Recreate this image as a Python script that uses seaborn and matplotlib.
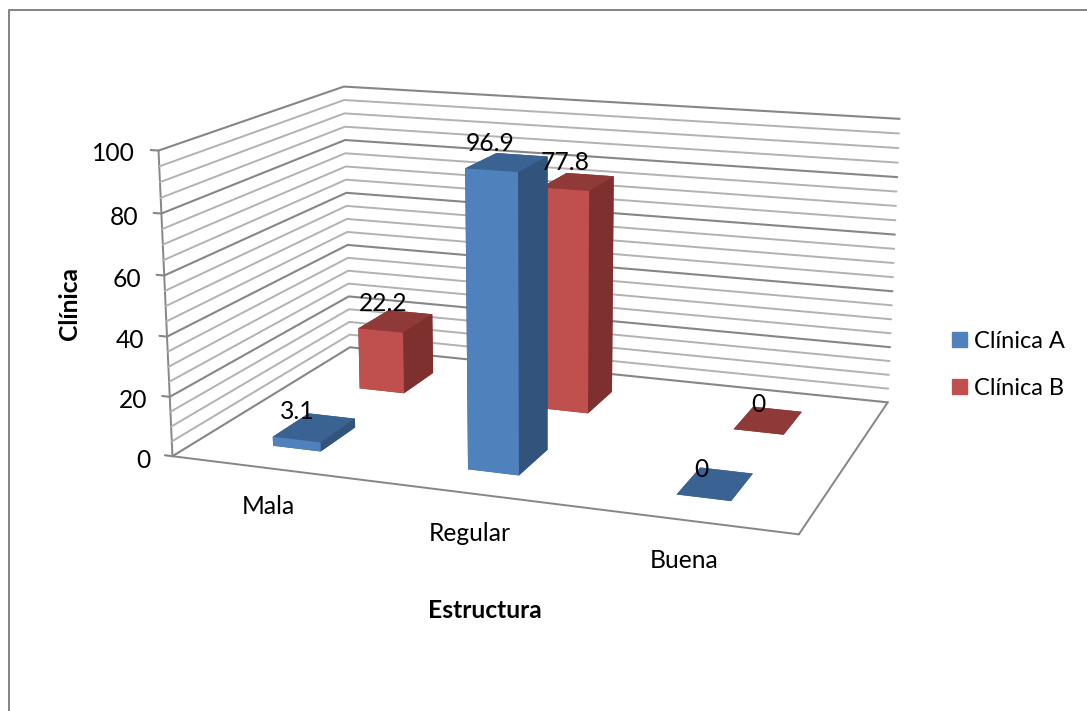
import numpy as np
import pandas as pd
import matplotlib
matplotlib.use("Agg")
import matplotlib.pyplot as plt
import seaborn as sns
from matplotlib.lines import Line2D
from matplotlib.patches import Patch
from matplotlib.transforms import Affine2D
from mpl_toolkits.mplot3d import proj3d

# Chart values
categorias = ["Mala", "Regular", "Buena"]
clinica_a = [3.1, 96.9, 0]
clinica_b = [22.2, 77.8, 0]
series_names = ["Clínica A", "Clínica B"]
z_major = [0, 20, 40, 60, 80, 100]
z_minor = [5, 10, 15, 25, 30, 35, 45, 50, 55, 65, 70, 75, 85, 90, 95]

sns.set_theme(style="white")
plt.rcParams['font.family'] = ['Lato', 'DejaVu Sans']

FW, FH = 1087, 711
FONT = 17.7
GRAY = '#868686'
LIGHT = '#B2B2B2'
colors_a = {'front': '#4F81BD', 'top': '#3A6292', 'side': '#32547C'}
colors_b = {'front': '#C0504D', 'top': '#8F3A38', 'side': '#7D302E'}

# Camera and box proportions of the 3D scene
ELEV, AZIM, FOCAL, BOX_X, BOX_Y = 14.260, -70.205, 0.4996, 2.0584, 1.3542
# Bar layout within each category/series cell
MARGIN_X, MARGIN_Y, DEPTH = 0.3747, 0.3018, 0.3921

fig = plt.figure(figsize=(FW / 100, FH / 100), dpi=100)
ax = fig.add_subplot(projection='3d', computed_zorder=False)
ax.set_position([142.00 / FW, 25.05 / FH, 783.25 / FW, 783.25 / FH])
ax.set_xlim(0, 3)
ax.set_ylim(0, 2)
ax.set_zlim(0, 100)
ax.view_init(elev=ELEV, azim=AZIM, roll=0)
ax.set_proj_type('persp', focal_length=FOCAL)
ax.set_box_aspect((BOX_X, BOX_Y, 1.0))

for axis in (ax.xaxis, ax.yaxis, ax.zaxis):
    axis.set_pane_color((1, 1, 1, 0))
    axis.pane.set_edgecolor((1, 1, 1, 0))
    axis.line.set_color(GRAY)
    axis.line.set_linewidth(1.4)
ax.grid(False)
ax.set_yticks([])
ax.set_xticks([0.5, 1.5, 2.5], categorias)
ax.set_zticks(z_major)
ax.zaxis.set_ticks_position('lower')
ax.tick_params(axis='x', labelsize=FONT, colors='black', color=(1, 1, 1, 0))
ax.tick_params(axis='z', labelsize=FONT, colors='black', color=(1, 1, 1, 0))


def shift_tick_labels(axis, offsets, ha='center'):
    """Keep an offset on each tick label; Axis3D resets label transforms when it fetches ticks."""
    fetch = axis.get_major_ticks

    def fetch_shifted(numticks=None):
        ticks = fetch(numticks)
        for tick, (dx, dy) in zip(ticks, offsets):
            tick.label1.set_transform(ax.transData + Affine2D().translate(dx, dy))
            tick.label1.set_horizontalalignment(ha)
        return ticks

    axis.get_major_ticks = fetch_shifted


shift_tick_labels(ax.xaxis, [(8, -10), (7, -11), (4, -10)])
shift_tick_labels(ax.zaxis, [(8, 9.5)] * len(z_major), ha='right')

# Walls: left wall then back wall, one polyline per gridline
for z in z_minor:
    ax.plot([0, 0, 3], [0, 2, 2], [z, z, z], color=LIGHT, lw=1.4, zorder=1)
for z in z_major:
    ax.plot([0, 0, 3], [0, 2, 2], [z, z, z], color=GRAY, lw=1.5, zorder=1.5)
    ax.plot([-0.04, 0], [0, 0], [z, z], color=GRAY, lw=1.5, zorder=1.5)


def face_colors(c):
    return [c['top'], c['top'], c['front'], c['side'], c['side'], c['side']]


w = 1 - 2 * MARGIN_X
for i, (a, b) in enumerate(zip(clinica_a, clinica_b)):
    ax.bar3d(i + MARGIN_X, 1 + MARGIN_Y, 0, w, DEPTH, b, color=face_colors(colors_b),
             shade=False, linewidth=0, zorder=3)
    ax.bar3d(i + MARGIN_X, MARGIN_Y, 0, w, DEPTH, a, color=face_colors(colors_a),
             shade=False, linewidth=0, zorder=4)

# Value labels sit up and to the right of each bar's front-left top corner
M = ax.get_proj()
for row, vals in enumerate((clinica_a, clinica_b)):
    for i, v in enumerate(vals):
        px, py, _ = proj3d.proj_transform(i + MARGIN_X, row + MARGIN_Y, v, M)
        ax.annotate(f"{v:g}", (px, py), xytext=(24.5, 25), textcoords='offset pixels',
                    ha='center', va='center', fontsize=FONT, color='black', zorder=10)

fig.text(485 / FW, 1 - 610 / FH, "Estructura", fontweight='bold', fontsize=FONT,
         ha='center', va='center', color='black')
fig.text(70 / FW, 1 - 304 / FH, "Clínica", fontweight='bold', fontsize=FONT,
         ha='center', va='center', rotation=90, color='black')

fig.legend(handles=[Patch(color=colors_a['front'], label=series_names[0]),
                    Patch(color=colors_b['front'], label=series_names[1])],
           loc='upper left', bbox_to_anchor=(952 / FW, 1 - 331 / FH), frameon=False, fontsize=17,
           handlelength=0.635, handleheight=0.635, labelspacing=1.1, handletextpad=0.3,
           borderpad=0, borderaxespad=0, labelcolor='black')

# Chart frame: only the top and left edges fall inside the canvas
fig.add_artist(Line2D([9 / FW, 1], [1 - 10 / FH, 1 - 10 / FH], color=GRAY, lw=1.44))
fig.add_artist(Line2D([9 / FW, 9 / FW], [1 - 10 / FH, 0], color=GRAY, lw=1.44))

fig.savefig("out.png", dpi=100)
